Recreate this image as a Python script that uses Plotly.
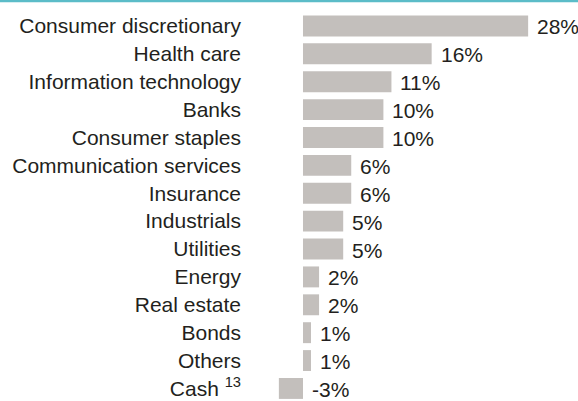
import plotly.graph_objects as go

categories = ["Consumer discretionary", "Health care", "Information technology", "Banks",
              "Consumer staples", "Communication services", "Insurance", "Industrials",
              "Utilities", "Energy", "Real estate", "Bonds", "Others", "Cash <sup>13</sup>"]
values = [28, 16, 11, 10, 10, 6, 6, 5, 5, 2, 2, 1, 1, -3]
value_labels = ["28%", "16%", "11%", "10%", "10%", "6%", "6%", "5%", "5%", "2%", "2%", "1%", "1%", "-3%"]

FONT = "Liberation Sans, Arial, sans-serif"
TXT = "#231f20"
BAR = "#c3bfbc"
TEAL = "#5bbcc8"
FS = 21

fig = go.Figure()
fig.add_trace(go.Bar(
    x=values, y=categories, orientation="h",
    marker=dict(color=BAR, line=dict(width=0)),
    width=0.75, hoverinfo="skip",
))

for c, v, lab in zip(categories, values, value_labels):
    fig.add_annotation(x=max(v, 0), y=c, xref="x", yref="y", text=lab,
                       showarrow=False, xanchor="left", yanchor="middle",
                       xshift=7, yshift=-1,
                       font=dict(family=FONT, size=FS, color=TXT))

fig.add_shape(type="line", xref="paper", yref="paper",
              x0=-1, x1=1.1, y0=1.0283, y1=1.0283,
              line=dict(color=TEAL, width=2.5))

fig.update_layout(
    width=578, height=401,
    margin=dict(l=250, r=0, t=12, b=0),
    paper_bgcolor="white", plot_bgcolor="white",
    showlegend=False,
    font=dict(family=FONT, size=FS, color=TXT),
    xaxis=dict(range=[-6.59, 34.2], visible=False, fixedrange=True),
    yaxis=dict(type="category", categoryorder="array", categoryarray=categories,
               range=[13.45, -0.5], showgrid=False, zeroline=False, showline=False,
               ticks="", ticklabelstandoff=8,
               tickfont=dict(family=FONT, size=FS, color=TXT)),
)

fig.write_html("out.html", config={"displayModeBar": False},
               post_script="document.body.style.margin='0px';")
